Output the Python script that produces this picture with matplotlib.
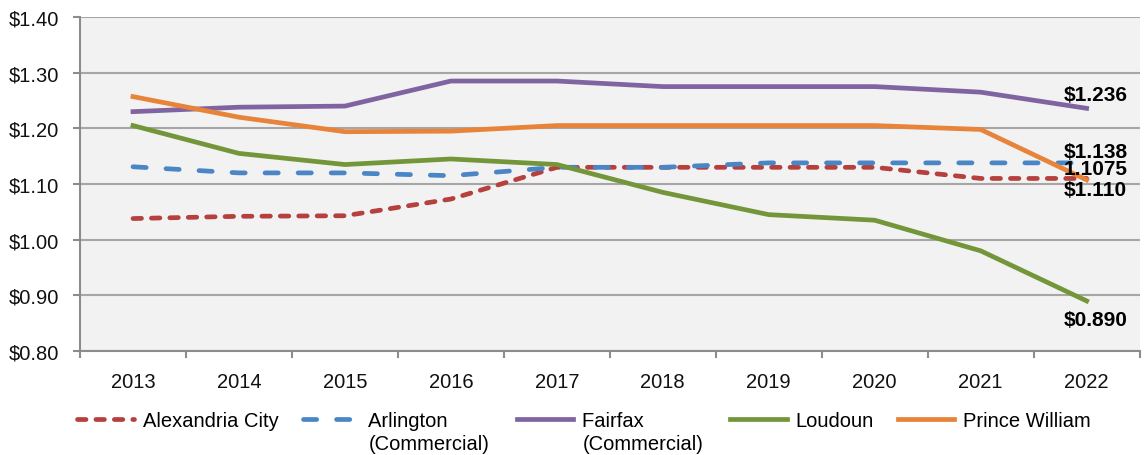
import numpy as np
import matplotlib.pyplot as plt

plt.rcParams['font.family'] = ['Liberation Sans', 'DejaVu Sans']

years = ['2013', '2014', '2015', '2016', '2017', '2018', '2019', '2020', '2021', '2022']
alexandria = [1.038, 1.042, 1.043, 1.073, 1.130, 1.130, 1.130, 1.130, 1.110, 1.110]
arlington = [1.131, 1.120, 1.120, 1.115, 1.130, 1.130, 1.138, 1.138, 1.138, 1.138]
fairfax = [1.230, 1.238, 1.240, 1.285, 1.285, 1.275, 1.275, 1.275, 1.265, 1.236]
loudoun = [1.205, 1.155, 1.135, 1.145, 1.135, 1.085, 1.045, 1.035, 0.980, 0.890]
prince_william = [1.257, 1.220, 1.194, 1.195, 1.205, 1.205, 1.205, 1.205, 1.198, 1.1075]

end_labels = ['$1.236', '$1.138', '1.1075', '$1.110', '$0.890']
end_label_y = [1.260, 1.159, 1.128, 1.090, 0.857]

LEG_FS = 14.5

fig = plt.figure(figsize=(11.48, 4.56), dpi=100)
ax = fig.add_axes([0.0697, 0.228, 0.923, 0.7325])
ax.set_facecolor('#f2f2f2')

x = np.arange(len(years))
lw = 3.4
ax.plot(x, alexandria, color='#b5403d', lw=lw, ls=(0, (1.8, 2.1)),
        dash_capstyle='round', label='Alexandria City')
ax.plot(x, arlington, color='#4a86c6', lw=lw, ls=(0, (2.8, 4.2)),
        dash_capstyle='round', label='Arlington')
ax.plot(x, fairfax, color='#8064a2', lw=lw, label='Fairfax')
ax.plot(x, loudoun, color='#73963a', lw=lw, label='Loudoun')
ax.plot(x, prince_william, color='#e8843a', lw=lw, label='Prince William')

for txt, yv in zip(end_labels, end_label_y):
    ax.text(x[-1] + 0.085, yv, txt, ha='center', va='center', fontsize=15,
            fontweight='bold')

ax.set_xlim(-0.5, 9.5)
ax.set_ylim(0.80, 1.40)
ax.set_xticks(x)
ax.set_xticklabels(years)
ax.set_xticks(np.arange(-0.5, 10, 1.0), minor=True)
ax.tick_params(axis='x', which='major', length=0, pad=15)
ax.tick_params(axis='x', which='minor', length=5, width=1.5, color='#8c8c8c')
yt = np.arange(0.8, 1.41, 0.1)
ax.set_yticks(yt)
ax.set_yticklabels(['$%.2f' % v for v in yt])
ax.tick_params(axis='y', length=5, width=1.5, color='#8c8c8c', pad=10)
ax.tick_params(labelsize=14.5, labelcolor='#111111')
ax.grid(axis='y', color='#a6a6a6', lw=1.5)
ax.set_axisbelow(True)
for s in ['top', 'right']:
    ax.spines[s].set_visible(False)
for s in ['left', 'bottom']:
    ax.spines[s].set_color('#8c8c8c')
    ax.spines[s].set_linewidth(1.5)

# pad the two-line labels so their columns are as wide as "(Commercial)"
fig.canvas.draw()
renderer = fig.canvas.get_renderer()


def text_width(s):
    t = fig.text(0, 0, s, fontsize=LEG_FS)
    w = t.get_window_extent(renderer).width
    t.remove()
    return w


sub = '(Commercial)'
handles, labels = ax.get_legend_handles_labels()
padded = []
for lab in labels:
    if lab in ('Arlington', 'Fairfax'):
        while text_width(lab) < text_width(sub):
            lab += ' '
    padded.append(lab)

leg = fig.legend(handles, padded, loc='upper center', bbox_to_anchor=(0.509, 0.115),
                 ncol=5, frameon=False, fontsize=LEG_FS, handlelength=2.8,
                 columnspacing=1.2, handletextpad=0.45, borderaxespad=0)

fig.canvas.draw()
for t in leg.get_texts():
    if t.get_text().strip() in ('Arlington', 'Fairfax'):
        bb = t.get_window_extent(renderer)
        fig.text(bb.x0 / fig.bbox.width, (bb.y0 - 23) / fig.bbox.height, sub,
                 fontsize=LEG_FS, ha='left', va='bottom')

fig.savefig('out.png', dpi=100, facecolor='white')
